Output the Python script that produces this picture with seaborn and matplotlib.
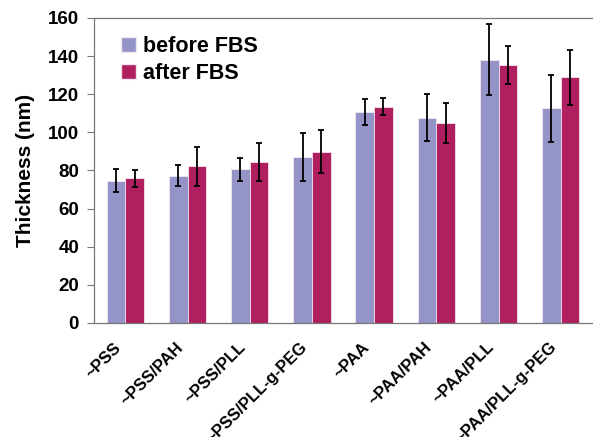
import matplotlib
matplotlib.use("Agg")
from matplotlib import pyplot as plt
from matplotlib.ticker import FixedLocator
from matplotlib.patches import Patch
from matplotlib.transforms import ScaledTranslation
import seaborn as sns
import pandas as pd
import numpy as np

# values
categories = ["~PSS", "~PSS/PAH", "~PSS/PLL", "~PSS/PLL-g-PEG",
              "~PAA", "~PAA/PAH", "~PAA/PLL", "~PAA/PLL-g-PEG"]
before_fbs = [74.7, 77.3, 80.6, 86.9, 110.7, 107.7, 138.1, 112.6]
before_err = [6.0, 5.7, 6.0, 12.5, 6.8, 12.2, 18.6, 17.5]
after_fbs = [75.9, 82.1, 84.3, 89.9, 113.5, 104.9, 135.4, 128.9]
after_err = [4.5, 10.3, 10.0, 11.3, 4.6, 10.4, 10.0, 14.4]
series = ["before FBS", "after FBS"]
yticks = [0, 20, 40, 60, 80, 100, 120, 140, 160]

colors = {"before FBS": "#9494c8", "after FBS": "#b01f5f"}

df = pd.DataFrame({
	"category": categories * 2,
	"series": [series[0]] * len(categories) + [series[1]] * len(categories),
	"thickness": before_fbs + after_fbs,
	"err": before_err + after_err,
})

sns.set_style("white")
plt.rcParams['font.family'] = ['Liberation Sans', 'DejaVu Sans']
plt.rcParams['font.weight'] = 'bold'
plt.rcParams['text.color'] = 'black'
plt.rcParams['axes.labelcolor'] = 'black'
plt.rcParams['xtick.color'] = 'black'
plt.rcParams['ytick.color'] = 'black'

fig = plt.figure(figsize=(5.93, 4.37), dpi=100)
ax = fig.add_axes([0.159, 0.261, 0.839, 0.698])

sns.barplot(data=df, x="category", y="thickness", hue="series", order=categories,
			hue_order=series, palette=colors, errorbar=None, width=0.6, gap=0,
			edgecolor="#f3e6ee", linewidth=0.6, saturation=1, ax=ax, legend=False)

# error bars on top of the seaborn bars
for container, s in zip(ax.containers, series):
	sub = df[df["series"] == s].set_index("category").loc[categories]
	xs = [b.get_x() + b.get_width() / 2 for b in container]
	ax.errorbar(xs, sub["thickness"].values, yerr=sub["err"].values, fmt="none",
				ecolor="black", elinewidth=1.3, capsize=2.5, capthick=1.3, zorder=5)

ax.set_xlim(-0.5, len(categories) - 0.5)
ax.set_ylim(0, 160)
ax.set_yticks(yticks)
ax.set_yticklabels([str(t) for t in yticks], fontsize=13.5, fontweight="bold")
ax.set_xticks(range(len(categories)))
ax.set_xticklabels(categories, rotation=45, ha="right", rotation_mode="anchor",
				   fontsize=12, fontweight="bold")
ax.xaxis.set_minor_locator(FixedLocator(np.arange(-0.5, len(categories), 1.0)))
ax.tick_params(axis="x", which="major", length=0, pad=12)
ax.tick_params(axis="x", which="minor", length=4, color="#777777", width=0.8, direction="out")
ax.tick_params(axis="y", length=5, color="#777777", width=0.8, direction="out", left=True, pad=6)

# nudge rotated labels left (after tick_params, which resets label transforms)
shift = ScaledTranslation(-12 / 100, 0, fig.dpi_scale_trans)
for lbl in ax.get_xticklabels():
	lbl.set_transform(lbl.get_transform() + shift)

ax.set_xlabel("")
ax.set_ylabel("Thickness (nm)", fontsize=15, fontweight="bold", labelpad=9)

for side in ["left", "bottom", "top"]:
	ax.spines[side].set_color("#777777")
	ax.spines[side].set_linewidth(0.9)
ax.spines["right"].set_visible(False)

handles = [Patch(facecolor=colors[s], edgecolor="#f3e6ee", label=s) for s in series]
ax.legend(handles=handles, loc="upper left", bbox_to_anchor=(0.054, 0.942), frameon=False,
		  prop={"size": 15.5, "weight": "bold"}, handlelength=0.7, handleheight=0.7,
		  handletextpad=0.3, labelspacing=0.3, borderpad=0, borderaxespad=0)

plt.savefig("out.png", dpi=100)
